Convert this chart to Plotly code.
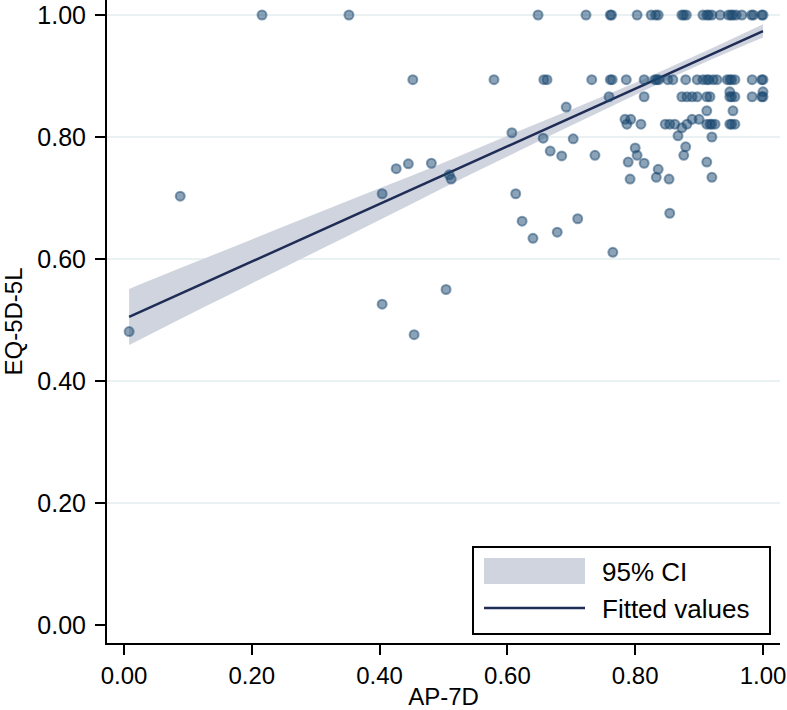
import plotly.graph_objects as go

# ---- scatter data (AP-7D on x, EQ-5D-5L on y), read row by row ----
x_row_1000 = [0.216, 0.352, 0.648, 0.723, 0.761, 0.763, 0.803, 0.825, 0.832, 0.836, 0.873, 0.876, 0.880,
              0.906, 0.912, 0.915, 0.920, 0.933, 0.946, 0.950, 0.953, 0.958, 0.967, 0.982, 0.985, 0.998, 1.000]
x_row_0894 = [0.452, 0.579, 0.657, 0.662, 0.732, 0.761, 0.764, 0.786, 0.814, 0.831, 0.834, 0.837, 0.851, 0.859,
              0.879, 0.897, 0.906, 0.912, 0.915, 0.922, 0.928, 0.944, 0.948, 0.951, 0.956, 0.983, 1.000, 0.998]
x_row_0874 = [0.948, 1.000]
x_row_0866 = [0.759, 0.814, 0.873, 0.881, 0.889, 0.897, 0.912, 0.917, 0.948, 0.951, 0.956, 0.983, 1.000, 0.998]
x_row_0843 = [0.912, 0.953]
x_row_0829 = [0.784, 0.793, 0.889, 0.900]
x_row_0821 = [0.787, 0.809, 0.847, 0.854, 0.862, 0.881, 0.912, 0.917, 0.920, 0.925, 0.948, 0.951, 0.956]

x_other = [0.692, 0.873, 0.867, 0.920, 0.607,
           0.656, 0.703, 0.667, 0.685, 0.737,
           0.800, 0.803, 0.789, 0.814, 0.836,
           0.833, 0.853, 0.792, 0.879, 0.876,
           0.912, 0.920, 0.854, 0.765, 0.710,
           0.678, 0.640, 0.623, 0.613, 0.404,
           0.426, 0.445, 0.481, 0.509, 0.512,
           0.008, 0.088, 0.404, 0.454, 0.504]
y_other = [0.849, 0.815, 0.802, 0.800, 0.807,
           0.798, 0.797, 0.777, 0.769, 0.770,
           0.782, 0.770, 0.759, 0.757, 0.747,
           0.734, 0.731, 0.731, 0.784, 0.770,
           0.759, 0.734, 0.675, 0.611, 0.666,
           0.644, 0.634, 0.662, 0.707, 0.707,
           0.748, 0.756, 0.757, 0.738, 0.731,
           0.481, 0.703, 0.526, 0.476, 0.550]

row_levels = [1.000, 0.894, 0.874, 0.866, 0.843, 0.829, 0.821]
row_lists = [x_row_1000, x_row_0894, x_row_0874, x_row_0866, x_row_0843, x_row_0829, x_row_0821]

ap7d, eq5d = [], []
for lvl, xs in zip(row_levels, row_lists):
    ap7d += xs
    eq5d += [lvl] * len(xs)
ap7d += x_other
eq5d += y_other

# ---- fitted line and 95% CI band ----
fit_x = [0.008, 1.000]
fit_y = [0.505, 0.9737]
ci_x = [0.008, 0.100, 0.200, 0.300, 0.400, 0.500, 0.600, 0.700, 0.800, 0.900, 1.000]
ci_lo = [0.459, 0.508, 0.560, 0.612, 0.664, 0.717, 0.768, 0.819, 0.869, 0.918, 0.963]
ci_hi = [0.551, 0.590, 0.632, 0.674, 0.716, 0.758, 0.802, 0.845, 0.889, 0.936, 0.985]

x_ticks = [0, 0.2, 0.4, 0.6, 0.8, 1.0]
y_ticks = [0, 0.2, 0.4, 0.6, 0.8, 1.0]
grid_vals = [0.2, 0.4, 0.6, 0.8, 1.0]

legend_labels = ["95% CI", "Fitted values"]

FONT = "Liberation Sans, Arial, sans-serif"
CI_COL = "#d0d4df"
LINE_COL = "#1f2d56"
MK = "rgba(26,71,111,0.5)"

fig = go.Figure()
fig.add_trace(go.Scatter(x=ci_x, y=ci_lo, mode="lines", line=dict(width=0, color=CI_COL, shape="spline"),
                         showlegend=False, hoverinfo="skip"))
fig.add_trace(go.Scatter(x=ci_x, y=ci_hi, mode="lines", line=dict(width=0, color=CI_COL, shape="spline"),
                         fill="tonexty", fillcolor=CI_COL, showlegend=False, hoverinfo="skip"))
fig.add_trace(go.Scatter(x=fit_x, y=fit_y, mode="lines", line=dict(width=2.5, color=LINE_COL),
                         showlegend=False))
fig.add_trace(go.Scatter(x=ap7d, y=eq5d, mode="markers",
                         marker=dict(size=9, color=MK, line=dict(width=2, color=MK)),
                         showlegend=False))

shapes = []
for g in grid_vals:
    shapes.append(dict(type="line", xref="paper", yref="y", x0=0, x1=1, y0=g, y1=g,
                       line=dict(color="#e9f1f3", width=2), layer="below"))

# manual legend box (pixel positions converted to paper fractions)
PW, PH, L, B = 673, 643, 107, 643
def px(v):
    return (v - L) / PW
def py(v):
    return (B - v) / PH

shapes.append(dict(type="rect", xref="paper", yref="paper", x0=px(473), x1=px(770),
                   y0=py(634), y1=py(547), line=dict(color="black", width=2), fillcolor="white"))
shapes.append(dict(type="rect", xref="paper", yref="paper", x0=px(484), x1=px(585),
                   y0=py(584), y1=py(558), line=dict(width=0), fillcolor=CI_COL))
shapes.append(dict(type="line", xref="paper", yref="paper", x0=px(484), x1=px(585),
                   y0=py(608), y1=py(608), line=dict(color=LINE_COL, width=2.5)))

annotations = [
    dict(text=legend_labels[0], xref="paper", yref="paper", x=px(600), y=py(572),
         xanchor="left", yanchor="middle", showarrow=False, font=dict(size=26, color="black", family=FONT)),
    dict(text=legend_labels[1], xref="paper", yref="paper", x=px(600), y=py(609),
         xanchor="left", yanchor="middle", showarrow=False, font=dict(size=26, color="black", family=FONT)),
]

fig.update_layout(
    width=787, height=710,
    margin=dict(l=107, r=7, t=0, b=67),
    paper_bgcolor="white", plot_bgcolor="white",
    font=dict(family=FONT, size=24, color="black"),
    shapes=shapes, annotations=annotations,
    xaxis=dict(range=[-0.0266, 1.0266], showline=True, linecolor="black", linewidth=2,
               ticks="outside", ticklen=10, tickwidth=2, tickcolor="black",
               tickvals=x_ticks, tickformat=".2f", showgrid=False, zeroline=False,
               tickfont=dict(size=24), automargin=False,
               title=dict(text="AP-7D", font=dict(size=24), standoff=0)),
    yaxis=dict(range=[-0.0295, 1.0246], showline=True, linecolor="black", linewidth=2,
               ticks="outside", ticklen=10, tickwidth=2, tickcolor="black",
               tickvals=y_ticks, tickformat=".2f", showgrid=False, zeroline=False,
               tickfont=dict(size=25), ticklabelstandoff=4, automargin=False,
               title=dict(text="EQ-5D-5L", font=dict(size=24), standoff=14)),
)

fig.write_html("out.html", config={"displayModeBar": False},
               post_script="document.body.style.margin='0';document.body.style.overflow='hidden';")
